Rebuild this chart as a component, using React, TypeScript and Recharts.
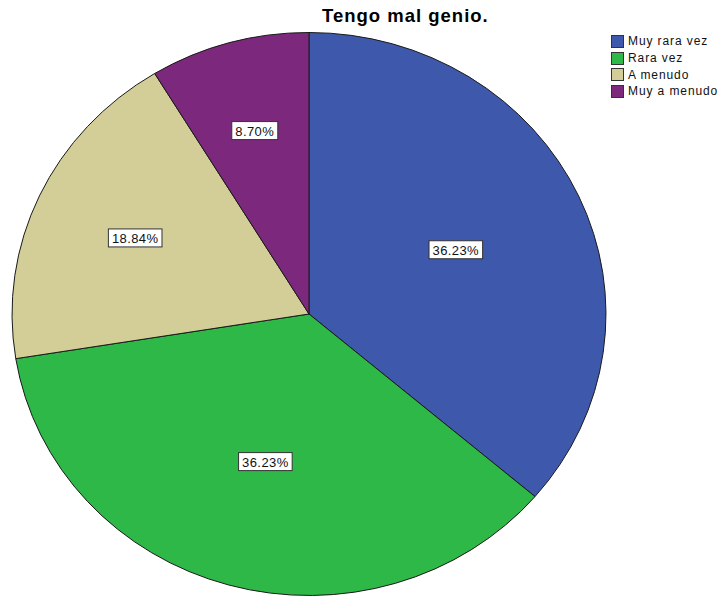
import React from 'react';
import { PieChart, Pie, Cell, Legend } from 'recharts';

const categories = ['Muy rara vez', 'Rara vez', 'A menudo', 'Muy a menudo'];
const counts = [25, 25, 13, 6];
const colors = ['#3E58AC', '#2EB848', '#D3CE97', '#7C287D'];
const title = 'Tengo mal genio.';

const data = categories.map((name, i) => ({ name, value: counts[i] }));

// the SPSS pie is a bit wider than tall
const STRETCH = 1.055;
const RAD = Math.PI / 180;
const FONT = '"Liberation Sans", Arial, sans-serif';

const ellPoint = (cx: number, cy: number, r: number, deg: number) => [
  cx + r * STRETCH * Math.cos(deg * RAD),
  cy - r * Math.sin(deg * RAD),
];

const EllipseSector = (props: any) => {
  const { cx, cy, outerRadius, startAngle, endAngle, fill } = props;
  const [x1, y1] = ellPoint(cx, cy, outerRadius, startAngle);
  const [x2, y2] = ellPoint(cx, cy, outerRadius, endAngle);
  const large = Math.abs(endAngle - startAngle) > 180 ? 1 : 0;
  const sweep = endAngle < startAngle ? 1 : 0;
  const d = `M${cx},${cy} L${x1},${y1} A${outerRadius * STRETCH},${outerRadius} 0 ${large} ${sweep} ${x2},${y2} Z`;
  return <path d={d} fill={fill} stroke="#1a1a1a" strokeWidth={1} />;
};

const renderLabel = (props: any) => {
  const { cx, cy, midAngle, outerRadius, percent } = props;
  const theta = percent * 2 * Math.PI;
  // centroid of the sector, pushed out a little for thin slices
  const f = (4 * Math.sin(theta / 2)) / (3 * theta) + (1 - percent) * 0.02;
  const [x, y] = ellPoint(cx, cy, outerRadius * f, midAngle);
  const text = (percent * 100).toFixed(2) + '%';
  const w = text.length * 7.6 + 8;
  return (
    <g>
      <rect x={x - w / 2} y={y - 9} width={w} height={18} fill="#fff" stroke="#333" strokeWidth={1} />
      <text
        x={x}
        y={y + 1}
        textAnchor="middle"
        dominantBaseline="central"
        fontFamily={FONT}
        fontSize={13}
        letterSpacing={0.4}
        fill="#111"
      >
        {text}
      </text>
    </g>
  );
};

const LegendBox = () => (
  <div>
    {categories.map((c, i) => (
      <div key={c} style={{ display: 'flex', alignItems: 'center', height: 16.7 }}>
        <div
          style={{
            width: 11,
            height: 11,
            background: colors[i],
            border: '1px solid #333',
            marginRight: 4,
          }}
        />
        <span style={{ fontFamily: FONT, fontSize: 12, letterSpacing: 0.9, color: '#111', lineHeight: '16px' }}>{c}</span>
      </div>
    ))}
  </div>
);

export default function App() {
  return (
    <div style={{ position: 'absolute', left: 0, top: 0, width: 720, height: 596, background: '#fff' }}>
      <div
        style={{
          position: 'absolute',
          left: 322,
          top: 5,
          fontFamily: FONT,
          fontWeight: 'bold',
          fontSize: 18.5,
          lineHeight: '22px',
          letterSpacing: 1,
          color: '#000',
          whiteSpace: 'nowrap',
          zIndex: 2,
        }}
      >
        {title}
      </div>
      <PieChart width={720} height={596} margin={{ top: 0, right: 0, bottom: 0, left: 0 }}>
        <Pie
          data={data}
          dataKey="value"
          nameKey="name"
          cx={309}
          cy={314}
          outerRadius={281.5}
          startAngle={90}
          endAngle={-270}
          shape={EllipseSector}
          label={renderLabel}
          labelLine={false}
          isAnimationActive={false}
        >
          {data.map((d, i) => (
            <Cell key={d.name} fill={colors[i]} />
          ))}
        </Pie>
        <Legend
          content={<LegendBox />}
          wrapperStyle={{ position: 'absolute', left: 611, top: 33, width: 110 }}
        />
      </PieChart>
    </div>
  );
}
